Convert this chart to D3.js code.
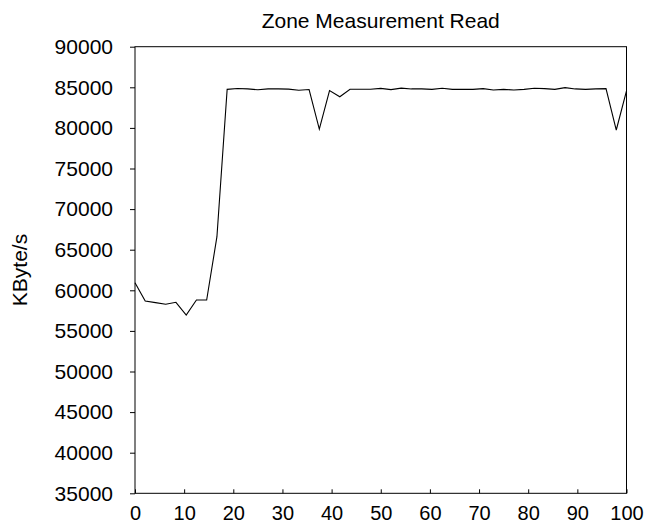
<!DOCTYPE html>
<html>
<head>
<meta charset="utf-8">
<script src="https://cdn.jsdelivr.net/npm/d3@7"></script>
<style>
  body { margin: 0; background: #fff; }
  text { font-family: "Liberation Sans", Arial, Helvetica, sans-serif; fill: #000; }
</style>
</head>
<body>
<svg id="chart" width="647" height="526"></svg>
<script>
// position in the disk, percent
var zonePct = [0, 2.08, 4.17, 6.25, 8.33, 10.42, 12.5, 14.58, 16.67, 18.75,
    20.83, 22.92, 25, 27.08, 29.17, 31.25, 33.33, 35.42, 37.5, 39.58,
    41.67, 43.75, 45.83, 47.92, 50, 52.08, 54.17, 56.25, 58.33, 60.42,
    62.5, 64.58, 66.67, 68.75, 70.83, 72.92, 75, 77.08, 79.17, 81.25,
    83.33, 85.42, 87.5, 89.58, 91.67, 93.75, 95.83, 97.92, 100];

// read rate, KByte/s
var readKBs = [60940, 58680, 58480, 58280, 58520, 56960, 58800, 58800, 66600, 84750,
    84850, 84800, 84700, 84800, 84800, 84780, 84630, 84720, 79860, 84600,
    83830, 84760, 84760, 84760, 84870, 84720, 84900, 84800, 84800, 84750,
    84880, 84750, 84750, 84750, 84840, 84670, 84750, 84670, 84750, 84880,
    84840, 84750, 84960, 84800, 84750, 84800, 84840, 79740, 84550];

var xTicks = [0, 10, 20, 30, 40, 50, 60, 70, 80, 90, 100];
var yTicks = [35000, 40000, 45000, 50000, 55000, 60000, 65000, 70000, 75000, 80000, 85000, 90000];

var fontSize = '21px';
var margin = {top: 46.7, right: 20.5, bottom: 32.7, left: 135};
var svg = d3.select('#chart');
var W = +svg.attr('width'), H = +svg.attr('height');
var w = W - margin.left - margin.right,
    h = H - margin.top - margin.bottom;

var g = svg.append('g').attr('transform', 'translate(' + margin.left + ',' + margin.top + ')');

var x = d3.scaleLinear().domain([0, 100]).range([0, w]);
var y = d3.scaleLinear().domain([35000, 90000]).range([h, 0]);

//frame
g.append('rect')
    .attr('width', w).attr('height', h)
    .attr('fill', 'none').attr('stroke', '#000').attr('stroke-width', 1);

//y axis: ticks outward
var yAxis = g.append('g')
    .call(d3.axisLeft(y).tickValues(yTicks).tickSize(5).tickPadding(17).tickFormat(d3.format('d')));
yAxis.select('.domain').remove();
yAxis.selectAll('line').attr('stroke', '#000');
yAxis.selectAll('text').style('font-size', fontSize).attr('fill', '#000');

//x axis: ticks inward, labels a bit smaller so they fit above the bottom edge
var xAxis = g.append('g')
    .attr('transform', 'translate(0,' + h + ')')
    .call(d3.axisBottom(x).tickValues(xTicks).tickSize(-4).tickPadding(13));
xAxis.select('.domain').remove();
xAxis.selectAll('line').attr('stroke', '#000');
xAxis.selectAll('text').style('font-size', '20px').attr('fill', '#000');

//data line
var line = d3.line()
    .x(function (d, i) { return x(zonePct[i]); })
    .y(function (d) { return y(d); });

g.append('path')
    .datum(readKBs)
    .attr('fill', 'none')
    .attr('stroke', '#000')
    .attr('stroke-width', 1.1)
    .attr('stroke-linejoin', 'miter')
    .attr('d', line);

//title and axis label
svg.append('text')
    .attr('x', margin.left + w / 2)
    .attr('y', 28)
    .attr('text-anchor', 'middle')
    .style('font-size', fontSize)
    .text('Zone Measurement Read');

svg.append('text')
    .attr('transform', 'translate(27,' + (margin.top + h / 2) + ') rotate(-90)')
    .attr('text-anchor', 'middle')
    .style('font-size', fontSize)
    .text('KByte/s');
</script>
</body>
</html>
